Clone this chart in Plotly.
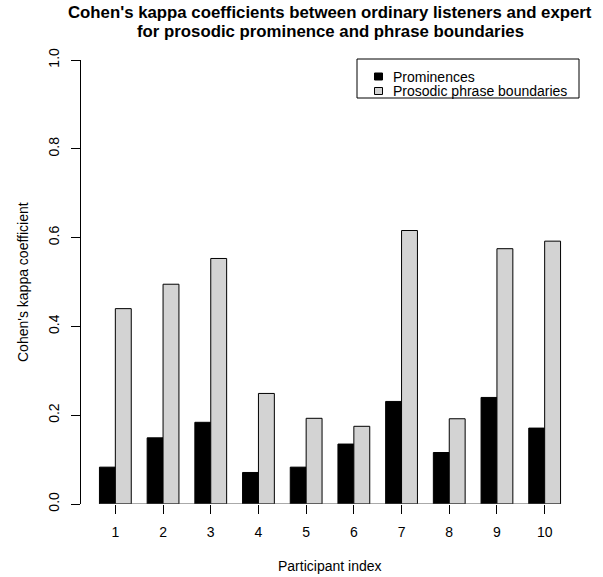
import plotly.graph_objects as go

participants = ["1", "2", "3", "4", "5", "6", "7", "8", "9", "10"]
prominences = [0.083, 0.149, 0.184, 0.071, 0.083, 0.135, 0.231, 0.116, 0.240, 0.171]
boundaries = [0.440, 0.495, 0.553, 0.249, 0.193, 0.175, 0.616, 0.192, 0.575, 0.592]
series_names = ["Prominences", "Prosodic phrase boundaries"]
series_colors = ["#000000", "#D3D3D3"]
yticks = [0.0, 0.2, 0.4, 0.6, 0.8, 1.0]
ytick_text = ["0.0", "0.2", "0.4", "0.6", "0.8", "1.0"]

FONT = "Liberation Sans, Arial, Helvetica, sans-serif"
W, H = 603, 577
L, R, T, B = 81, 24, 60, 73
pw, ph = W - L - R, H - T - B

def px(x):
    return (x - L) / pw

def py(y):
    return (H - B - y) / ph

fig = go.Figure()
for name, vals, col in zip(series_names, [prominences, boundaries], series_colors):
    fig.add_trace(go.Bar(
        x=participants, y=vals, name=name,
        marker=dict(color=col, line=dict(color="#000000", width=1)),
        showlegend=False,
    ))

shapes = [
    # baseline from first bar to last bar
    dict(type="line", xref="x", yref="y", x0=-1/3, x1=len(participants) - 1 + 1/3,
         y0=0, y1=0, line=dict(color="#555555", width=1)),
    # legend box
    dict(type="rect", xref="paper", yref="paper", x0=px(357), x1=px(579), y0=py(98), y1=py(59),
         line=dict(color="#000000", width=1), fillcolor="white"),
]
annotations = []
leg_y = [76.5, 91]
for i, (name, col) in enumerate(zip(series_names, series_colors)):
    yy = leg_y[i]
    shapes.append(dict(type="rect", xref="paper", yref="paper",
                       x0=px(374.5), x1=px(382.5), y0=py(yy + 3.5), y1=py(yy - 3.5),
                       fillcolor=col, line=dict(color="#000000", width=1)))
    annotations.append(dict(text=name, xref="paper", yref="paper", x=px(391), y=py(yy),
                            xanchor="left", yanchor="middle", showarrow=False,
                            font=dict(family=FONT, size=14, color="#000000")))

# title lines
annotations.append(dict(text="<b>Cohen's kappa coefficients between ordinary listeners and expert</b>",
                        xref="paper", yref="paper", x=0.5, y=py(12), xanchor="center", yanchor="middle",
                        showarrow=False, font=dict(family=FONT, size=16.8, color="#000000")))
annotations.append(dict(text="<b>for prosodic prominence and phrase boundaries</b>",
                        xref="paper", yref="paper", x=0.5, y=py(32), xanchor="center", yanchor="middle",
                        showarrow=False, font=dict(family=FONT, size=16.8, color="#000000")))
# axis titles
annotations.append(dict(text="Participant index", xref="paper", yref="paper", x=0.5, y=py(566),
                        xanchor="center", yanchor="middle", showarrow=False,
                        font=dict(family=FONT, size=14, color="#000000")))
annotations.append(dict(text="Cohen's kappa coefficient", xref="paper", yref="paper", x=px(23), y=0.5,
                        xanchor="center", yanchor="middle", textangle=-90, showarrow=False,
                        font=dict(family=FONT, size=14, color="#000000")))

fig.update_layout(
    width=W, height=H,
    margin=dict(l=L, r=R, t=T, b=B, pad=0),
    paper_bgcolor="white", plot_bgcolor="white",
    barmode="group", bargap=1/3, bargroupgap=0,
    font=dict(family=FONT, size=14, color="#000000"),
    shapes=shapes, annotations=annotations,
    xaxis=dict(range=[-0.72, len(participants) - 1 + 0.72], showgrid=False, zeroline=False,
               showline=False, ticks="outside", ticklen=9, tickwidth=1, tickcolor="#000000",
               ticklabelstandoff=6,
               tickfont=dict(family=FONT, size=14, color="#000000")),
    yaxis=dict(range=[0, 1], showgrid=False, zeroline=False, showline=True, linecolor="#000000",
               linewidth=1, ticks="outside", ticklen=9, tickwidth=1, tickcolor="#000000",
               tickvals=yticks, ticktext=ytick_text, tickangle=-90, ticklabelstandoff=6,
               tickfont=dict(family=FONT, size=14, color="#000000")),
)

fig.write_html("out.html")
